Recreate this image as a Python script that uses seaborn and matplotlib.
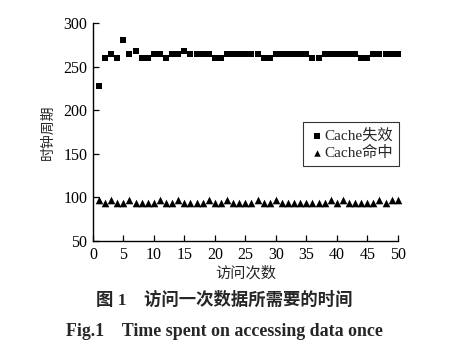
import matplotlib
matplotlib.use("Agg")
import matplotlib.pyplot as plt
import seaborn as sns
import pandas as pd

# access index 1..50
visits = list(range(1, 51))

# clock cycles on cache miss (squares)
miss_cycles = [228, 260, 264, 260, 280, 264, 268, 260, 260, 264,
               264, 260, 264, 264, 268, 264, 264, 264, 264, 260,
               260, 264, 264, 264, 264, 264, 264, 260, 260, 264,
               264, 264, 264, 264, 264, 260, 260, 264, 264, 264,
               264, 264, 264, 260, 260, 264, 264, 264, 264, 264]

# clock cycles on cache hit (triangles)
hit_cycles = [97, 93, 97, 93, 93, 97, 93, 93, 93, 93,
              97, 93, 93, 97, 93, 93, 93, 93, 97, 93,
              93, 97, 93, 93, 93, 93, 97, 93, 93, 97,
              93, 93, 93, 93, 93, 93, 93, 93, 97, 93,
              97, 93, 93, 93, 93, 93, 97, 93, 97, 97]

x_ticks = list(range(0, 51, 5))
y_ticks = list(range(50, 301, 50))

sns.set_theme(style="white")
plt.rcParams["font.family"] = ["Liberation Serif", "Noto Sans CJK SC"]
plt.rcParams["axes.unicode_minus"] = False

df = pd.DataFrame({"visit": visits, "miss": miss_cycles, "hit": hit_cycles})

fig = plt.figure(figsize=(4.51, 3.64), dpi=100)
ax = fig.add_axes([0.206, 0.338, 0.676, 0.599])

sns.scatterplot(data=df, x="visit", y="miss", marker="s", s=19, color="black",
                edgecolor="black", linewidth=0, label="Cache失效", ax=ax, clip_on=False)
sns.scatterplot(data=df, x="visit", y="hit", marker="^", s=30, color="black",
                edgecolor="black", linewidth=0, label="Cache命中", ax=ax, clip_on=False)

ax.set_xlim(0, 50)
ax.set_ylim(50, 300)
ax.set_xticks(x_ticks)
ax.set_yticks(y_ticks)
ax.tick_params(direction="in", length=4, width=0.9, colors="black",
               labelsize=11.5, pad=4, left=True, bottom=True)
for side in ["top", "right"]:
    ax.spines[side].set_visible(False)
for side in ["left", "bottom"]:
    ax.spines[side].set_color("black")
    ax.spines[side].set_linewidth(1.0)

ax.set_xlabel("访问次数", fontsize=11, labelpad=3)
ax.set_ylabel("时钟周期", fontsize=10, labelpad=6)

leg = ax.legend(loc="upper left", bbox_to_anchor=(0.69, 0.545), fontsize=11,
                frameon=True, fancybox=False, handletextpad=0.0, handlelength=1.0,
                borderpad=0.4, labelspacing=0.2, markerscale=0.85,
                borderaxespad=0)
leg.get_frame().set_edgecolor("black")
leg.get_frame().set_linewidth(0.8)

fig.text(0.497, 0.175, "图 1    访问一次数据所需要的时间", ha="center", va="center",
         fontsize=12.5, fontweight="bold")
fig.text(0.497, 0.09, "Fig.1    Time spent on accessing data once", ha="center",
         va="center", fontsize=12.9, fontweight="bold")

fig.savefig("out.png", dpi=100, facecolor="white")
